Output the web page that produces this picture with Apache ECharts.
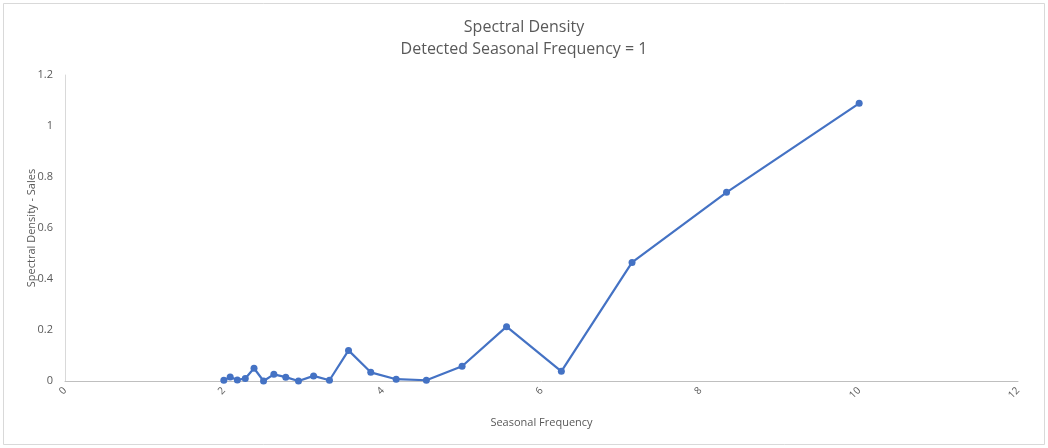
<!DOCTYPE html>
<html>
<head>
<meta charset="utf-8">
<script src="https://cdn.jsdelivr.net/npm/echarts@6/dist/echarts.min.js"></script>
<style>
  html, body { margin: 0; padding: 0; background: #fff; }
  #chart { width: 1048px; height: 448px; }
</style>
</head>
<body>
<div id="chart"></div>
<script>
// seasonal frequency (x) and spectral density (y)
var frequency = [2.0, 2.08, 2.17, 2.27, 2.38, 2.5, 2.63, 2.78, 2.94, 3.13, 3.33, 3.57, 3.85, 4.17, 4.55, 5.0, 5.56, 6.25, 7.14, 8.33, 10.0];
var density = [0.003, 0.016, 0.004, 0.01, 0.05, 0.0, 0.026, 0.015, 0.0, 0.02, 0.003, 0.12, 0.034, 0.007, 0.003, 0.058, 0.213, 0.038, 0.465, 0.74, 1.089];
var titleLines = ['Spectral Density', 'Detected Seasonal Frequency = 1'];

var points = frequency.map(function (f, i) { return [f, density[i]]; });

var myChart = echarts.init(document.getElementById('chart'));
var grey = '#595959';
var font = '"Open Sans", "Liberation Sans", sans-serif';

myChart.setOption({
    backgroundColor: '#fff',
    textStyle: { fontFamily: font },
    title: {
        text: titleLines.join('\n'),
        left: 'center',
        top: 11,
        textStyle: { color: grey, fontSize: 16, fontWeight: 'normal', lineHeight: 22, fontFamily: font }
    },
    graphic: [{
        type: 'rect',
        shape: { x: 3.5, y: 3.5, width: 1041, height: 441 },
        style: { fill: 'none', stroke: '#d9d9d9', lineWidth: 1 },
        silent: true
    }],
    grid: { left: 65, right: 30, top: 75, bottom: 67 },
    xAxis: {
        type: 'value',
        min: 0,
        max: 12,
        interval: 2,
        name: 'Seasonal Frequency',
        nameLocation: 'middle',
        nameGap: 36,
        nameTextStyle: { color: grey, fontSize: 11 },
        axisLine: { show: true, lineStyle: { color: '#bfbfbf' } },
        axisTick: { show: false },
        splitLine: { show: false },
        axisLabel: { color: grey, fontSize: 10, rotate: 45, margin: 8 }
    },
    yAxis: {
        type: 'value',
        min: 0,
        max: 1.2,
        interval: 0.2,
        name: 'Spectral Density - Sales',
        nameLocation: 'middle',
        nameGap: 28,
        nameMoveOverlap: false,
        nameTextStyle: { color: grey, fontSize: 11 },
        axisLine: { show: true, lineStyle: { color: '#d9d9d9' } },
        axisTick: { show: false },
        splitLine: { show: false },
        axisLabel: {
            color: grey, fontSize: 11, margin: 12,
            formatter: function (v) { return String(Math.round(v * 10) / 10); }
        }
    },
    series: [{
        type: 'line',
        data: points,
        symbol: 'circle',
        symbolSize: 7,
        lineStyle: { color: '#4472C4', width: 2.2 },
        itemStyle: { color: '#4472C4' }
    }]
});
</script>
</body>
</html>
